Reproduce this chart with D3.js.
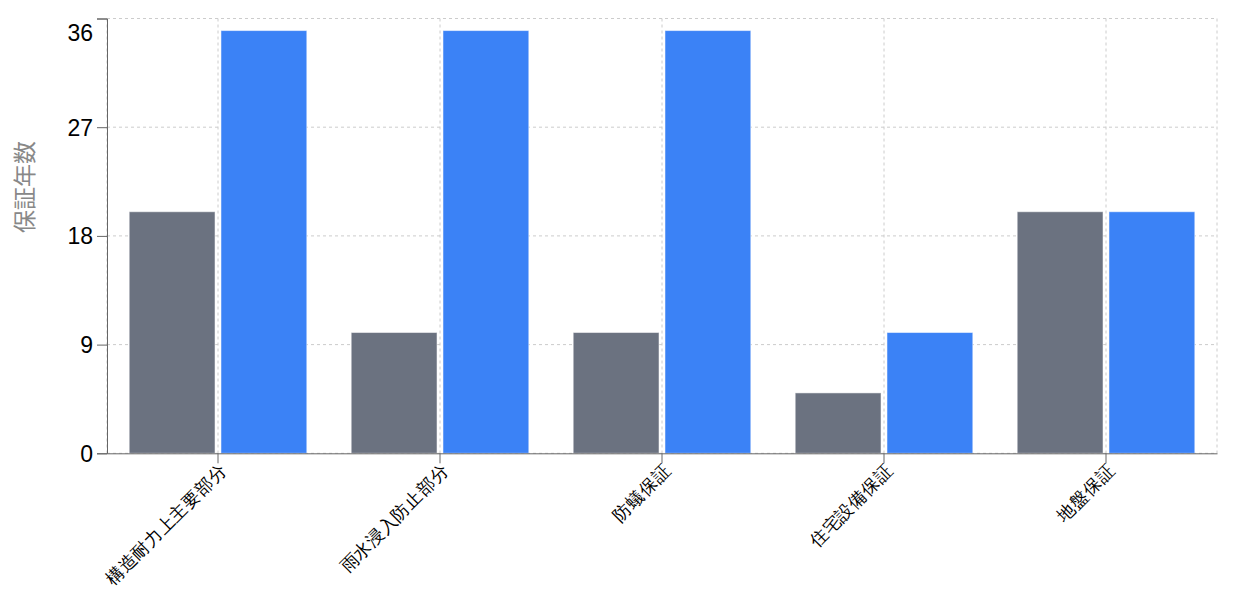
<!DOCTYPE html>
<html>
<head>
<meta charset="utf-8">
<script src="https://cdn.jsdelivr.net/npm/d3@7"></script>
<style>
  body { margin: 0; background: #fff; }
  svg { display: block; font-family: "Liberation Sans", Arial, "Noto Sans CJK JP", sans-serif; }
</style>
</head>
<body>
<div id="chart"></div>
<script>
// data
const categories = ["構造耐力上主要部分", "雨水浸入防止部分", "防蟻保証", "住宅設備保証", "地盤保証"];
const seriesNames = ["a", "b"];
const seriesA = [20, 10, 10, 5, 20];
const seriesB = [35, 35, 35, 10, 20];
const yTicks = [0, 9, 18, 27, 36];
const colors = ["#6b7280", "#3b82f6"];

const width = 1244, height = 593;
const margin = { top: 18.5, right: 27, bottom: 140, left: 107 };

const svg = d3.select("#chart").append("svg")
  .attr("width", width)
  .attr("height", height);

const x = d3.scaleBand()
  .domain(categories)
  .range([margin.left, width - margin.right]);

const bw = x.bandwidth();
const x1 = d3.scaleBand()
  .domain(seriesNames)
  .range([bw * 0.1, bw * 0.9])
  .paddingInner(0.065);

const y = d3.scaleLinear()
  .domain([0, 36])
  .range([height - margin.bottom + 0.3, margin.top]);

// grid
const grid = svg.append("g")
  .attr("stroke", "#ccc")
  .attr("stroke-dasharray", "3 3");

grid.selectAll("line.h")
  .data(yTicks)
  .join("line")
  .attr("x1", margin.left).attr("x2", width - margin.right)
  .attr("y1", d => y(d)).attr("y2", d => y(d));

grid.selectAll("line.v")
  .data(categories.map(c => x(c) + bw / 2).concat([margin.left, width - margin.right]))
  .join("line")
  .attr("x1", d => d).attr("x2", d => d)
  .attr("y1", margin.top).attr("y2", y(0));

// bars
const rows = categories.map((c, i) => ({ cat: c, values: [seriesA[i], seriesB[i]] }));

svg.append("g")
  .selectAll("g")
  .data(rows)
  .join("g")
  .attr("transform", d => `translate(${x(d.cat)},0)`)
  .selectAll("rect")
  .data(d => d.values.map((v, j) => ({ key: seriesNames[j], v: v, j: j })))
  .join("rect")
  .attr("x", d => x1(d.key))
  .attr("width", x1.bandwidth())
  .attr("y", d => y(d.v))
  .attr("height", d => y(0) - y(d.v))
  .attr("fill", d => colors[d.j])
  .attr("stroke", "rgba(255,255,255,0.5)")
  .attr("stroke-width", 1);

// axes
const yAxis = svg.append("g")
  .attr("transform", `translate(${margin.left},0)`)
  .call(d3.axisLeft(y).tickValues(yTicks).tickSize(10).tickPadding(4));
yAxis.select(".domain").attr("stroke", "#666");
yAxis.selectAll(".tick line").attr("stroke", "#666");
yAxis.selectAll(".tick text")
  .attr("font-size", 23)
  .attr("fill", "#000")
  .attr("dy", d => d === 36 ? "0.95em" : "0.35em");

const xAxis = svg.append("g")
  .attr("transform", `translate(0,${y(0)})`)
  .call(d3.axisBottom(x).tickSize(10).tickPadding(4).tickSizeOuter(0));
xAxis.select(".domain").attr("stroke", "#666");
xAxis.selectAll(".tick line").attr("stroke", "#666");
xAxis.selectAll(".tick text")
  .attr("font-size", 17.5)
  .attr("fill", "#000")
  .attr("text-anchor", "end")
  .attr("dy", "0.35em")
  .attr("x", 0).attr("y", 0)
  .attr("transform", "translate(5,14) rotate(-45)");

// y label
svg.append("text")
  .attr("transform", `translate(33,${(y(0) + y(36)) / 2 - 49}) rotate(-90)`)
  .attr("text-anchor", "middle")
  .attr("font-size", 23)
  .attr("fill", "#888")
  .text("保証年数");
</script>
</body>
</html>
